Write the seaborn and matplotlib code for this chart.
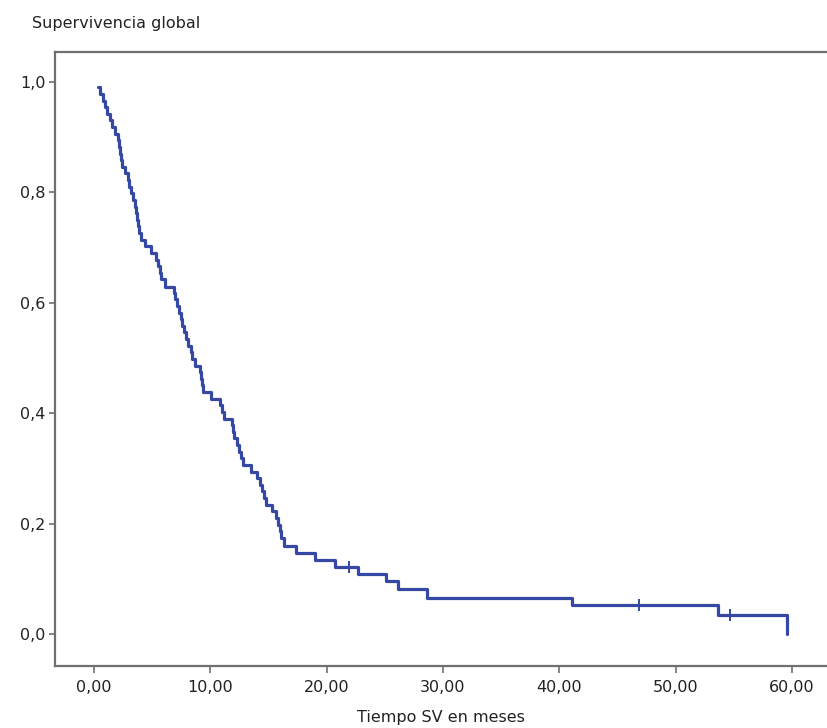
import pandas as pd
import matplotlib
matplotlib.use("Agg")
import matplotlib.pyplot as plt
import seaborn as sns
from matplotlib.ticker import FuncFormatter

# Curva de supervivencia (Kaplan-Meier)
tiempo = [0.0, 0.35, 0.55, 0.75, 0.95, 1.15, 1.35, 1.55, 1.85, 2.05, 2.15, 2.25,
          2.35, 2.45, 2.65, 2.9, 3.05, 3.2, 3.35, 3.5, 3.6, 3.7, 3.8, 3.9,
          4.05, 4.4, 4.9, 5.3, 5.5, 5.65, 5.8, 6.1, 6.9, 7.0, 7.1, 7.3,
          7.45, 7.6, 7.75, 7.95, 8.1, 8.3, 8.45, 8.7, 9.1, 9.2, 9.3, 9.4,
          10.1, 10.8, 11.0, 11.15, 11.85, 11.95, 12.05, 12.25, 12.45, 12.65, 12.8, 13.5,
          14.05, 14.3, 14.45, 14.6, 14.75, 15.3, 15.65, 15.85, 15.95, 16.1, 16.3, 17.4,
          19.0, 20.7, 22.7, 25.1, 26.1, 28.6, 41.1, 53.6, 59.6]
superv = [1.000, 0.990, 0.978, 0.966, 0.954, 0.942, 0.930, 0.918, 0.906, 0.894, 0.882, 0.870,
          0.858, 0.846, 0.834, 0.822, 0.810, 0.798, 0.786, 0.774, 0.762, 0.750, 0.738, 0.726,
          0.714, 0.702, 0.690, 0.678, 0.666, 0.654, 0.642, 0.628, 0.618, 0.606, 0.594, 0.582,
          0.570, 0.558, 0.546, 0.534, 0.522, 0.510, 0.498, 0.486, 0.474, 0.462, 0.450, 0.438,
          0.426, 0.414, 0.402, 0.390, 0.378, 0.366, 0.354, 0.342, 0.330, 0.318, 0.306, 0.294,
          0.282, 0.270, 0.258, 0.246, 0.234, 0.222, 0.210, 0.198, 0.186, 0.174, 0.160, 0.147,
          0.134, 0.122, 0.109, 0.095, 0.081, 0.066, 0.053, 0.034, 0.000]

# Casos censurados
cens_tiempo = [21.9, 46.8, 54.7]
cens_superv = [0.122, 0.053, 0.034]

xticks = [0, 10, 20, 30, 40, 50, 60]
yticks = [0.0, 0.2, 0.4, 0.6, 0.8, 1.0]

df = pd.DataFrame({"tiempo": tiempo, "superv": superv})
df_cens = pd.DataFrame({"tiempo": cens_tiempo, "superv": cens_superv})

sns.set_theme(style="white")
plt.rcParams["font.family"] = ["DejaVu Sans"]

azul = "#3549a4"
gris = "#6f6f6f"

fig = plt.figure(figsize=(8.27, 7.28), dpi=100)
ax = fig.add_axes([0.0665, 0.0852, 0.9335, 0.8434])

# el primer punto (t=0) no se dibuja: la curva arranca en el primer evento
sns.lineplot(data=df.iloc[1:], x="tiempo", y="superv", ax=ax, color=azul,
             linewidth=2.3, drawstyle="steps-post", estimator=None)
sns.scatterplot(data=df_cens, x="tiempo", y="superv", ax=ax, color=azul,
                marker="|", s=70, linewidth=1.4)

ax.set_xlim(-3.35, 63.0)
ax.set_ylim(-0.058, 1.054)
ax.set_xticks(xticks)
ax.set_yticks(yticks)
ax.xaxis.set_major_formatter(FuncFormatter(lambda v, p: f"{v:.2f}".replace(".", ",")))
ax.yaxis.set_major_formatter(FuncFormatter(lambda v, p: f"{v:.1f}".replace(".", ",")))
ax.tick_params(axis="both", direction="out", length=4, width=1.2, color=gris,
               labelsize=11.5, labelcolor="#222222", pad=3)
ax.tick_params(axis="x", length=5, pad=5)
ax.tick_params(left=True, bottom=True)

for lado in ["left", "bottom", "top"]:
    ax.spines[lado].set_color(gris)
    ax.spines[lado].set_linewidth(1.6)
ax.spines["right"].set_visible(False)

ax.set_xlabel("Tiempo SV en meses", fontsize=11.5, color="#222222", labelpad=11)
ax.set_ylabel("")
fig.text(0.039, 0.968, "Supervivencia global", fontsize=11.5, color="#222222",
         ha="left", va="center")

fig.savefig("out.png", dpi=100)
